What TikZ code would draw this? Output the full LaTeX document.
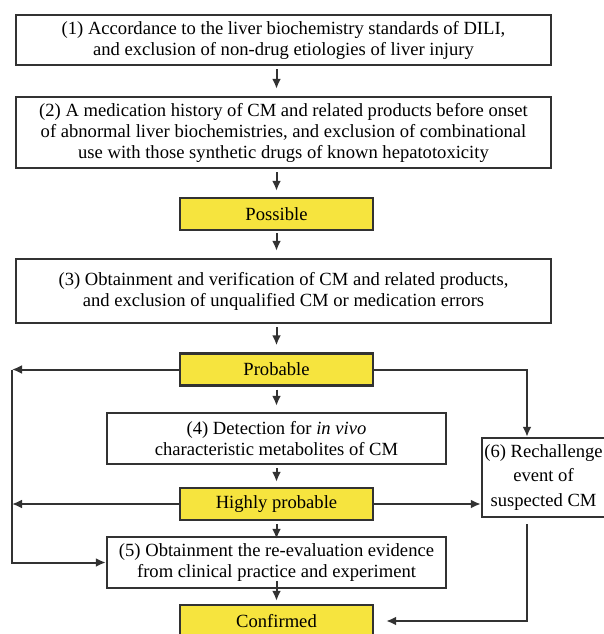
\documentclass[tikz,border=0pt]{standalone}
\usepackage{fontspec}
\setmainfont{Liberation Serif}
\usetikzlibrary{arrows.meta}
\definecolor{ylw}{RGB}{246,228,62}
\definecolor{ink}{RGB}{50,50,50}
\begin{document}
\begin{tikzpicture}[x=1pt,y=-1pt,
		box/.style={draw=ink,line width=2.4pt,fill=white,inner sep=0pt,align=center,font=\fontsize{18.6}{21}\selectfont},
		tag/.style={box,fill=ylw,minimum width=193,minimum height=32},
		arr/.style={draw=ink,line width=2pt,-{Latex[length=10pt,width=9pt]}}]
	\useasboundingbox[fill=white] (0,0) rectangle (603,634);
	\node[box,minimum width=535,minimum height=50] (s1) at (283.5,40) {(1) Accordance to the liver biochemistry standards of DILI,\\and exclusion of non-drug etiologies of liver injury};
	\node[box,minimum width=535,minimum height=71] (s2) at (283.5,132.5) {(2) A medication history of CM and related products before onset\\of abnormal liver biochemistries, and exclusion of combinational\\use with those synthetic drugs of known hepatotoxicity};
	\node[tag] (pos) at (276.5,214) {Possible};
	\node[box,minimum width=535,minimum height=64] (s3) at (283.5,291) {(3) Obtainment and verification of CM and related products,\\and exclusion of unqualified CM or medication errors};
	\node[tag] (prob) at (276.5,369.5) {Probable};
	\node[box,minimum width=339,minimum height=51] (s4) at (276.5,438.5) {(4) Detection for \textit{in vivo}\\characteristic metabolites of CM};
	\node[tag] (high) at (276.5,504) {Highly probable};
	\node[box,minimum width=339,minimum height=51] (s5) at (276.5,562.5) {(5) Obtainment the re-evaluation evidence\\from clinical practice and experiment};
	\node[box,minimum width=123,minimum height=79,font=\fontsize{18.6}{24.5}\selectfont] (s6) at (543.5,477.5) {(6) Rechallenge\\event of\\suspected CM};
	\node[tag] (conf) at (276.5,621) {Confirmed};
	\coordinate (lt) at (12,369.5);
	\coordinate (rt) at (527,369.5);
	\draw[arr,shorten <=3pt,shorten >=7pt] (s1.south -| pos) -- (s2.north -| pos);
	\draw[arr,shorten <=3pt,shorten >=6pt] (s2.south -| pos) -- (pos.north);
	\draw[arr,shorten <=2pt,shorten >=7pt] (pos.south) -- (s3.north -| pos);
	\draw[arr,shorten <=3pt,shorten >=7pt] (s3.south -| pos) -- (prob.north);
	\draw[arr,shorten <=3pt,shorten >=6pt] (prob.south) -- (s4.north);
	\draw[arr,shorten <=3pt,shorten >=5pt] (s4.south) -- (high.north);
	\draw[arr,shorten <=3pt,shorten >=-3pt] (high.south) -- (s5.north);
	\draw[arr,shorten <=-8pt,shorten >=3pt] (s5.south) -- (conf.north);
	\draw[arr] (prob.west) -- (lt);
	\draw[arr] (lt) |- (s5.west);
	\draw[arr] (high.west) -- (high.west -| lt);
	\draw[arr] (prob.east) -- (rt) -- (rt |- s6.north);
	\draw[arr] (high.east) -- (high.east -| s6.west);
	\draw[arr,shorten <=6pt,shorten >=12pt] (rt |- s6.south) |- (conf.east);
\end{tikzpicture}
\end{document}
